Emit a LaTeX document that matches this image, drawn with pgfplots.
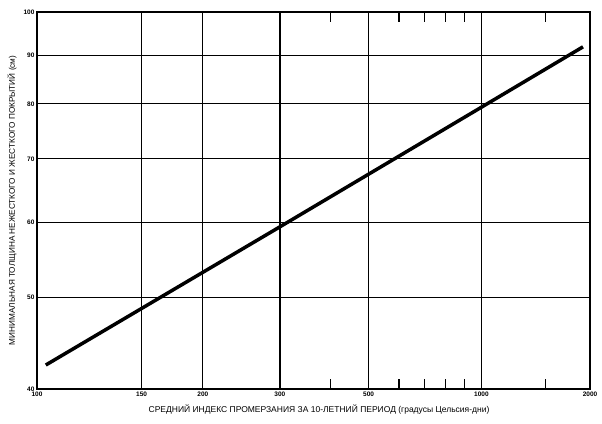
\documentclass[border=0pt]{standalone}
\usepackage{fontspec}
\setmainfont{Liberation Sans}
\usepackage{pgfplots}
\pgfplotsset{compat=1.18}
\begin{document}
\begin{tikzpicture}
\begin{axis}[
  scale only axis, width=553pt, height=377pt,
  x coord trafo/.code={\pgfmathparse{log10(#1-50)}},
  x coord inv trafo/.code={\pgfmathparse{10^(#1)+50}},
  xmin=100, xmax=2000,
  ymode=log, ymin=40, ymax=100,
  xtick={100,150,200,300,500,1000,2000},
  xticklabels={100,150,200,300,500,1000,2000},
  minor xtick={400,600,700,800,900,1500},
  ytick={40,50,60,70,80,90,100},
  yticklabels={40,50,60,70,80,90,100},
  minor ytick={},
  xmajorgrids, ymajorgrids,
  major grid style={black, line width=1.2pt},
  axis line style={black, line width=1.7pt},
  major tick length=0pt, minor tick length=10pt,
  minor tick style={black, line width=1.1pt},
  tick align=inside,
  xtick pos=both, ytick pos=left,
  tick label style={font=\fontsize{6.5}{6.5}\selectfont\bfseries},
  xticklabel style={yshift=1pt},
  yticklabel style={xshift=1pt},
  xlabel={СРЕДНИЙ ИНДЕКС ПРОМЕРЗАНИЯ ЗА 10-ЛЕТНИЙ ПЕРИОД (градусы Цельсия-дни)},
  ylabel={МИНИМАЛЬНАЯ ТОЛЩИНА НЕЖЕСТКОГО И ЖЕСТКОГО ПОКРЫТИЙ (см)},
  xlabel style={font=\fontsize{8.5}{9}\selectfont, at={(axis description cs:0.51,-0.0557)}, anchor=center},
  ylabel style={font=\fontsize{8.2}{9}\selectfont, at={(axis description cs:-0.0452,0.5)}, anchor=center},
]
\addplot[black, line width=3.5pt] coordinates {(103,42.4) (300,59.33) (1000,79.35) (1912,91.88)};
\end{axis}
\path (current axis.south west) ++(-37pt,-35pt) coordinate (bbA);
\path (current axis.north east) ++(12pt,12pt) coordinate (bbB);
\pgfresetboundingbox
\useasboundingbox (bbA) rectangle (bbB);
\end{tikzpicture}
\end{document}
